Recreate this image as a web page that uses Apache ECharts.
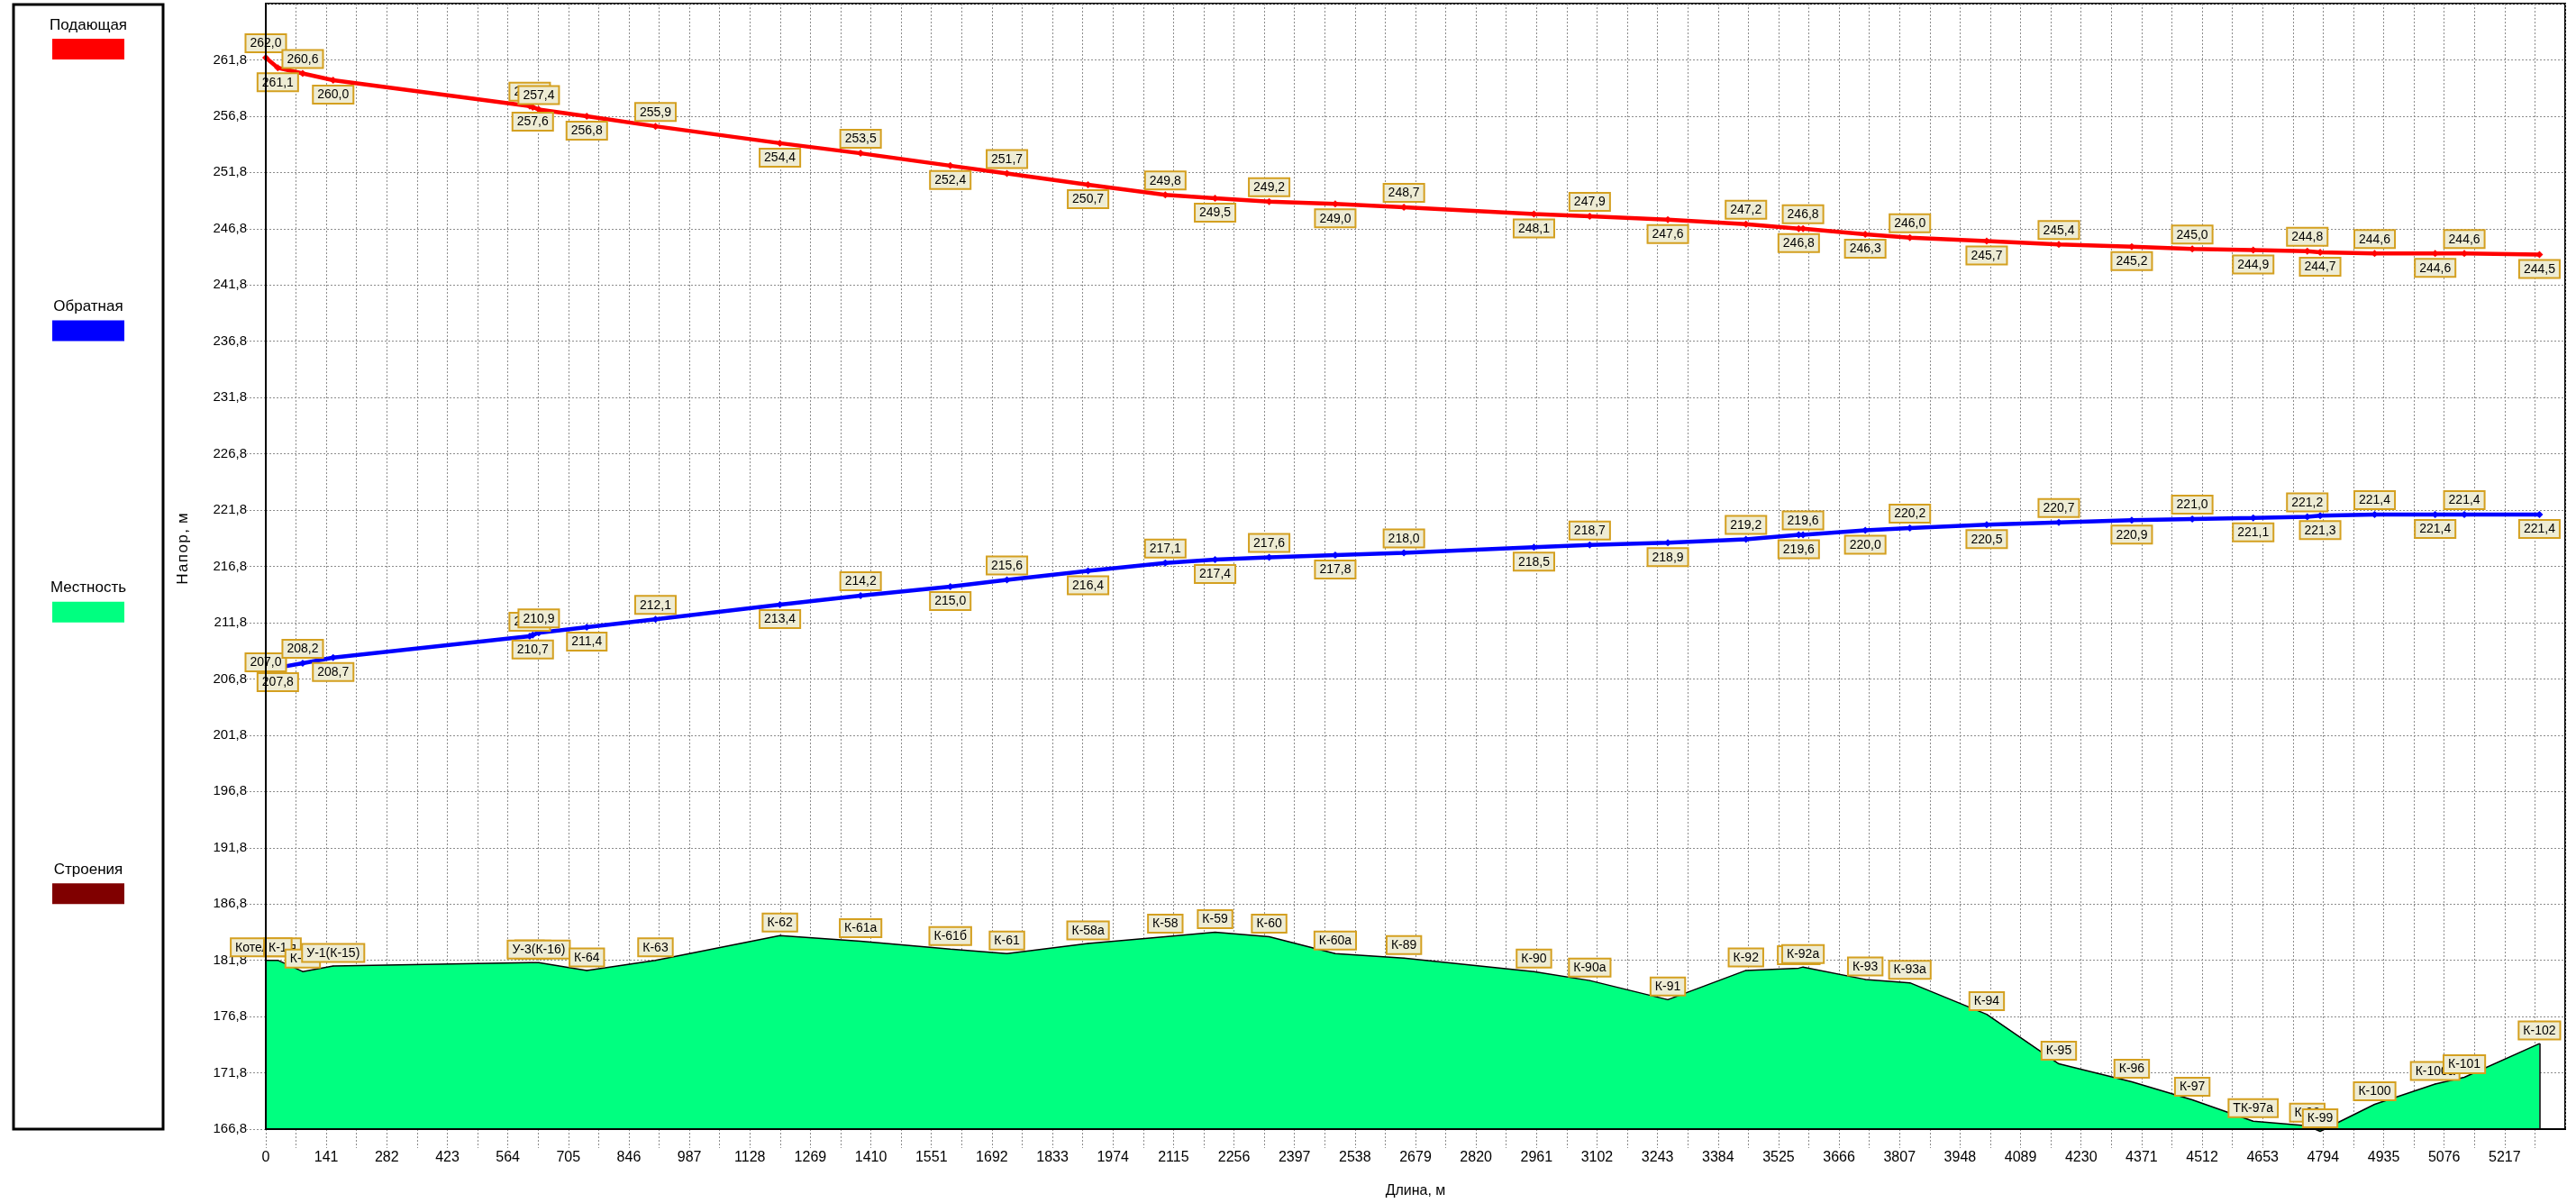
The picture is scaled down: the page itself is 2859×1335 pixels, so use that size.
<!DOCTYPE html>
<html>
<head>
<meta charset="utf-8">
<script src="https://cdn.jsdelivr.net/npm/echarts@6/dist/echarts.min.js"></script>
<style>
  html, body { margin: 0; padding: 0; background: #fff; }
  #chart { width: 2859px; height: 1335px; }
</style>
</head>
<body>
<div id="chart"></div>
<script>
// distance along the pipe, m
const distance = [0, 28, 86, 157, 615, 622, 636, 748, 908, 1198, 1386, 1595, 1727, 1916, 2096, 2212, 2338, 2492, 2652, 2955,
    3085, 3267, 3449, 3572, 3582, 3727, 3831, 4010, 4178, 4348, 4489, 4631, 4757, 4787, 4914, 5055, 5123, 5298];

// head in supply line, m
const supply = [262.0, 261.1, 260.6, 260.0, 257.7, 257.6, 257.4, 256.8, 255.9, 254.4, 253.5, 252.4, 251.7, 250.7, 249.8, 249.5,
    249.2, 249.0, 248.7, 248.1, 247.9, 247.6, 247.2, 246.8, 246.8, 246.3, 246.0, 245.7, 245.4, 245.2, 245.0, 244.9, 244.8,
    244.7, 244.6, 244.6, 244.6, 244.5];

// head in return line, m
const ret = [207.0, 207.8, 208.2, 208.7, 210.6, 210.7, 210.9, 211.4, 212.1, 213.4, 214.2, 215.0, 215.6, 216.4, 217.1, 217.4,
    217.6, 217.8, 218.0, 218.5, 218.7, 218.9, 219.2, 219.6, 219.6, 220.0, 220.2, 220.5, 220.7, 220.9, 221.0, 221.1, 221.2,
    221.3, 221.4, 221.4, 221.4, 221.4];

// ground level, m
const ground = [181.8, 181.8, 180.8, 181.3, 181.6, 181.6, 181.6, 180.9, 181.8, 184.0, 183.5, 182.8, 182.4, 183.3, 183.9, 184.3,
    183.9, 182.4, 182.0, 180.8, 180.0, 178.3, 180.9, 181.1, 181.2, 180.1, 179.8, 177.0, 172.6, 171.0, 169.4, 167.5, 167.1,
    166.6, 169.0, 170.8, 171.4, 174.4];

// chamber names
const nodes = ['Котельная', 'К-1', 'К-14', 'У-1(К-15)', 'У-2', 'У-2а', 'У-3(К-16)', 'К-64', 'К-63', 'К-62', 'К-61а', 'К-61б',
    'К-61', 'К-58а', 'К-58', 'К-59', 'К-60', 'К-60а', 'К-89', 'К-90', 'К-90а', 'К-91', 'К-92', 'К-92б', 'К-92а', 'К-93',
    'К-93а', 'К-94', 'К-95', 'К-96', 'К-97', 'ТК-97а', 'К-98', 'К-99', 'К-100', 'К-100а', 'К-101', 'К-102'];

const legendNames = ['Подающая', 'Обратная', 'Местность', 'Строения'];
const legendColors = ['#ff0000', '#0000ff', '#00ff80', '#800000'];

// axis settings
const xMax = 5358;
const xStep = 70.5;
const xLabelStep = 141;
const yMin = 166.8;
const yMax = 266.8;
const yStep = 5;

const FONT = '"Liberation Sans", Arial, sans-serif';

const fmt = v => v.toFixed(1).replace('.', ',');

const boxLabel = {
    show: true,
    fontFamily: FONT,
    fontSize: 14,
    color: '#000',
    backgroundColor: '#eeecd4',
    borderColor: '#d4a020',
    borderWidth: 2,
    padding: [2, 4, 1, 4],
    lineHeight: 15,
    distance: 3
};

function headData(values) {
    return distance.map((d, i) => ({
        value: [d, values[i]],
        label: { position: i % 2 ? 'bottom' : 'top' }
    }));
}

const chart = echarts.init(document.getElementById('chart'));

const legendGraphics = [{
    type: 'rect',
    shape: { x: 15, y: 5, width: 166, height: 1248 },
    style: { fill: '#fff', stroke: '#000', lineWidth: 3 }
}];
legendNames.forEach((name, i) => {
    legendGraphics.push({
        type: 'text',
        x: 98, y: 28 + i * 312.4,
        style: { text: name, font: '17px ' + FONT, fill: '#000', align: 'center', verticalAlign: 'middle' }
    });
    legendGraphics.push({
        type: 'rect',
        shape: { x: 58, y: 43 + i * 312.4, width: 80, height: 23 },
        style: { fill: legendColors[i] }
    });
});
legendGraphics.push({
    type: 'text',
    x: 203, y: 609,
    rotation: Math.PI / 2,
    style: { text: 'Н\u200aа\u200aп\u200aо\u200aр\u200a,\u200a м', font: '17px ' + FONT, fill: '#000', align: 'center', verticalAlign: 'middle' }
});

const gridLine = { color: '#8c8c8c', width: 1, type: [2, 2] };

const option = {
    animation: false,
    backgroundColor: '#fff',
    graphic: legendGraphics,
    grid: {
        left: 295, top: 4, right: 12, bottom: 82,
        show: true, borderColor: '#000', borderWidth: 2
    },
    xAxis: [
        {
            type: 'value',
            min: 0, max: xMax, interval: xStep,
            axisLine: { show: false },
            axisTick: { show: true, length: 21, lineStyle: gridLine },
            splitLine: { show: true, lineStyle: gridLine },
            axisLabel: {
                fontFamily: FONT, fontSize: 16, color: '#000', margin: 24,
                showMaxLabel: false,
                formatter: v => {
                    const k = v / xLabelStep;
                    return Math.abs(k - Math.round(k)) < 1e-6 && v < xMax ? String(Math.round(v)) : '';
                }
            },
            name: 'Длина, м',
            nameLocation: 'middle',
            nameGap: 61,
            nameTextStyle: { fontFamily: FONT, fontSize: 16, color: '#000' }
        },
        {
            type: 'value',
            min: 0, max: xMax, position: 'bottom', z: 10,
            axisLine: { show: true, lineStyle: { color: '#000', width: 2 } },
            axisTick: { show: false }, axisLabel: { show: false }, splitLine: { show: false }
        }
    ],
    yAxis: [
        {
            type: 'value',
            min: yMin, max: yMax, interval: yStep,
            axisLine: { show: false },
            axisTick: { show: true, length: 21, lineStyle: gridLine },
            splitLine: { show: true, lineStyle: gridLine },
            axisLabel: {
                fontFamily: FONT, fontSize: 15, color: '#000', margin: 21,
                showMaxLabel: false,
                formatter: v => fmt(v)
            }
        },
        {
            type: 'value',
            min: yMin, max: yMax, position: 'left', z: 10,
            axisLine: { show: true, lineStyle: { color: '#000', width: 2 } },
            axisTick: { show: false }, axisLabel: { show: false }, splitLine: { show: false }
        }
    ],
    series: [
        {
            name: 'Местность',
            type: 'line',
            clip: false,
            data: distance.map((d, i) => [d, ground[i]]),
            symbol: 'circle',
            symbolSize: 1,
            itemStyle: { color: '#000' },
            lineStyle: { color: '#000', width: 1.5 },
            areaStyle: { color: '#00ff80', opacity: 1 },
            label: Object.assign({}, boxLabel, {
                position: 'top',
                distance: 5,
                formatter: p => nodes[p.dataIndex]
            }),
            markLine: {
                silent: true,
                symbol: 'none',
                label: { show: false },
                lineStyle: { color: '#000', width: 1.5, type: 'solid' },
                data: [[
                    { coord: [distance[distance.length - 1], ground[ground.length - 1]] },
                    { coord: [distance[distance.length - 1], yMin] }
                ]]
            },
            z: 2
        },
        {
            name: 'Подающая',
            type: 'line',
            data: headData(supply),
            symbol: 'diamond',
            symbolSize: 8,
            itemStyle: { color: '#ff0000' },
            lineStyle: { color: '#ff0000', width: 4.5 },
            label: Object.assign({}, boxLabel, { formatter: p => fmt(p.value[1]) }),
            z: 3
        },
        {
            name: 'Обратная',
            type: 'line',
            data: headData(ret),
            symbol: 'diamond',
            symbolSize: 8,
            itemStyle: { color: '#0000ff' },
            lineStyle: { color: '#0000ff', width: 4.5 },
            label: Object.assign({}, boxLabel, { formatter: p => fmt(p.value[1]) }),
            z: 3
        }
    ]
};

chart.setOption(option);
</script>
</body>
</html>
